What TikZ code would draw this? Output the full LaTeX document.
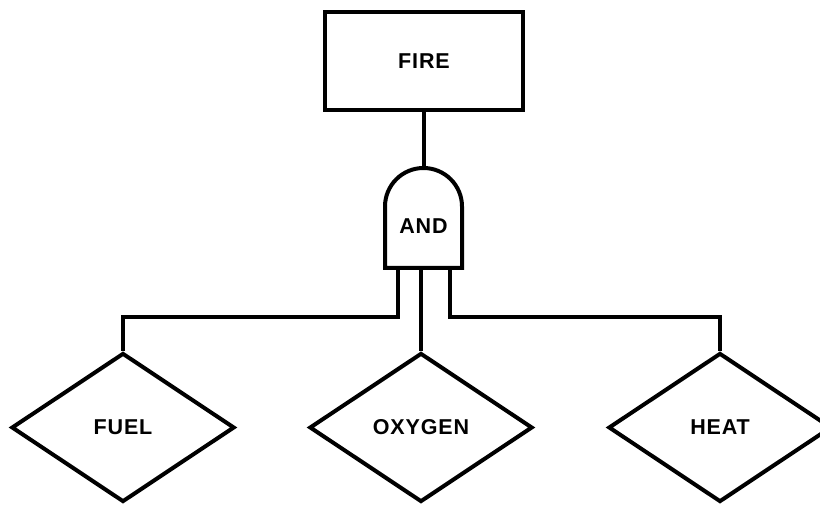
\documentclass[tikz,border=0pt]{standalone}
\usepackage{fontspec}
\setmainfont{Liberation Sans}[LetterSpace=4]
\usetikzlibrary{shapes.geometric}

\begin{document}
\begin{tikzpicture}[x=1pt,y=-1pt,line width=4pt,
  word/.style={font=\fontsize{21.5}{24}\selectfont\bfseries},
  event/.style={draw,diamond,aspect=1.5,minimum width=223pt,minimum height=149pt,inner sep=0pt,word}]
\useasboundingbox (0,0) rectangle (820,505);

\node[draw,minimum width=198pt,minimum height=98pt,word] (fire) at (424,61) {FIRE};

\node[minimum width=77pt,minimum height=100pt,inner sep=0pt,outer sep=0pt] (gate) at (423.5,218) {};
\draw (gate.south west) -- ++(0,-61.5) arc[start angle=180,end angle=0,radius=38.5pt] -- (gate.south east) -- cycle;
\node[word] (and) at (423.5,226) {AND};

\node[event] (fuel) at (123,427.5) {FUEL};
\node[event] (oxygen) at (421,427.5) {OXYGEN};
\node[event] (heat) at (720,427.5) {HEAT};

\draw (gate.north) -- (gate.north |- fire.south);
\draw ([xshift=-26pt]gate.south) -- ++(0,49) -| (fuel.north);
\draw (oxygen.north |- gate.south) -- (oxygen.north);
\draw ([xshift=26pt]gate.south) -- ++(0,49) -| (heat.north);
\end{tikzpicture}
\end{document}
